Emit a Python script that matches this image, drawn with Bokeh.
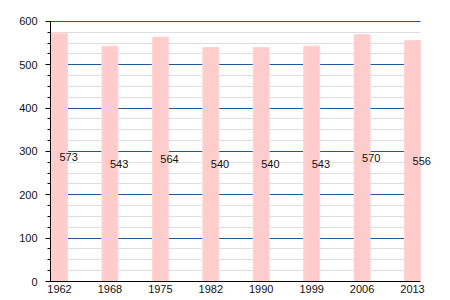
from bokeh.plotting import figure
from bokeh.models import Range1d, FixedTicker, SingleIntervalTicker, ColumnDataSource, Label
from bokeh.embed import file_html
from bokeh.resources import INLINE

years = ["1962", "1968", "1975", "1982", "1990", "1999", "2006", "2013"]
population = [573, 543, 564, 540, 540, 543, 570, 556]

idx = list(range(len(years)))
bar_w = 0.317
px_per_unit = 50.43
x_start = -bar_w / 2 - 0.02
x_bar_end = len(years) - 1 + bar_w / 2
x_end = x_start + 390 / px_per_unit

src = ColumnDataSource(dict(x=idx, top=population))

p = figure(width=450, height=300, output_backend="svg", toolbar_location=None,
           x_range=Range1d(x_start, x_end),
           y_range=Range1d(0, 602.3),
           min_border_left=50, min_border_right=10, min_border_top=20, min_border_bottom=19)
p.outline_line_color = None
p.background_fill_color = "white"
p.border_fill_color = "white"

p.vbar(x="x", top="top", width=bar_w, bottom=0, source=src,
       fill_color="#ffcccc", line_color="#ffd6d6", line_width=1)

for i, v in zip(idx, population):
    p.add_layout(Label(x=i, y=v / 2, text=str(v), text_align="left",
                       text_baseline="alphabetic", text_font="Liberation Sans",
                       text_font_size="11px", text_color="#111111", level="overlay"))

p.xgrid.grid_line_color = None
p.ygrid.grid_line_color = "#1f5b99"
p.ygrid.grid_line_width = 1
p.ygrid.minor_grid_line_color = "#dedede"
p.ygrid.minor_grid_line_width = 1
p.ygrid.cross_bounds = (x_start, x_bar_end)

p.yaxis.ticker = SingleIntervalTicker(interval=100, num_minor_ticks=4)
p.yaxis.bounds = (0, 600)
p.yaxis.major_tick_out = 5
p.yaxis.major_tick_in = 0
p.yaxis.minor_tick_out = 3
p.yaxis.minor_tick_in = 0
p.yaxis.major_label_standoff = 8
p.yaxis.axis_line_color = "black"
p.yaxis.major_tick_line_color = "black"
p.yaxis.minor_tick_line_color = "black"

p.xaxis.ticker = FixedTicker(ticks=idx)
p.xaxis.bounds = (x_start, x_bar_end)
p.xaxis.major_label_overrides = {i: y for i, y in zip(idx, years)}
p.xaxis.major_tick_out = 0
p.xaxis.major_tick_in = 0
p.xaxis.minor_tick_line_color = None
p.xaxis.major_label_standoff = 3
p.xaxis.axis_line_color = "black"

for ax in (p.xaxis, p.yaxis):
    ax.major_label_text_font = "Liberation Sans"
    ax.major_label_text_font_size = "11px"
    ax.major_label_text_color = "#111111"

open("out.html", "w").write(file_html(p, INLINE))
